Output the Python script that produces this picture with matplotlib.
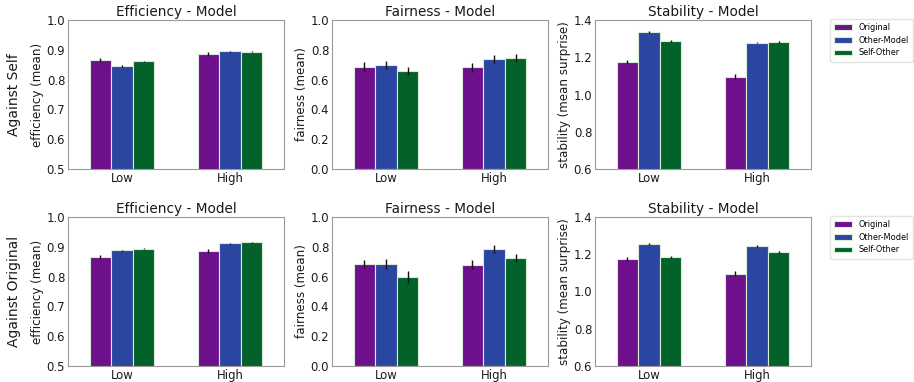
"""Efficiency / fairness / stability bar panels, against self and against original."""

import numpy as np
import matplotlib

matplotlib.use("Agg")
import matplotlib.pyplot as plt


groups = ["Low", "High"]
series = ["Original", "Other-Model", "Self-Other"]
colors = ["#6e0f8b", "#2a46a0", "#03622a"]

# against self
eff_self = [[0.865, 0.886], [0.845, 0.895], [0.862, 0.893]]
eff_self_err = [[0.007, 0.008], [0.003, 0.002], [0.002, 0.002]]
fair_self = [[0.687, 0.683], [0.699, 0.739], [0.657, 0.743]]
fair_self_err = [[0.029, 0.031], [0.027, 0.025], [0.029, 0.026]]
stab_self = [[1.173, 1.096], [1.336, 1.279], [1.289, 1.284]]
stab_self_err = [[0.010, 0.012], [0.005, 0.004], [0.005, 0.005]]

# against original
eff_orig = [[0.865, 0.885], [0.888, 0.912], [0.894, 0.915]]
eff_orig_err = [[0.007, 0.007], [0.002, 0.002], [0.002, 0.002]]
fair_orig = [[0.685, 0.681], [0.685, 0.783], [0.598, 0.723]]
fair_orig_err = [[0.029, 0.031], [0.031, 0.027], [0.038, 0.027]]
stab_orig = [[1.173, 1.096], [1.255, 1.245], [1.186, 1.213]]
stab_orig_err = [[0.010, 0.012], [0.005, 0.005], [0.006, 0.006]]

rows = [
    ("Against Self", [(eff_self, eff_self_err), (fair_self, fair_self_err), (stab_self, stab_self_err)]),
    ("Against Original", [(eff_orig, eff_orig_err), (fair_orig, fair_orig_err), (stab_orig, stab_orig_err)]),
]
panels = [
    ("Efficiency - Model", "efficiency (mean)", (0.5, 1.0), [0.5, 0.6, 0.7, 0.8, 0.9, 1.0]),
    ("Fairness - Model", "fairness (mean)", (0.0, 1.0), [0.0, 0.2, 0.4, 0.6, 0.8, 1.0]),
    ("Stability - Model", "stability (mean surprise)", (0.6, 1.4), [0.6, 0.8, 1.0, 1.2, 1.4]),
]

W, H = 914, 382
fig = plt.figure(figsize=(W / 100, H / 100), dpi=100)
lefts = [68, 332, 595]
tops = [20, 217]
aw, ah = 216, 149
width = 0.2
x = np.arange(len(groups))

for r, (row_label, data) in enumerate(rows):
    for c, ((title, ylabel, ylim, yticks), (vals, errs)) in enumerate(zip(panels, data)):
        ax = fig.add_axes([lefts[c] / W, 1 - (tops[r] + ah) / H, aw / W, ah / H])
        for i, name in enumerate(series):
            ax.bar(
                x + (i - 1) * width,
                vals[i],
                width,
                yerr=errs[i],
                color=colors[i],
                edgecolor="#d8ecd8",
                linewidth=0.8,
                error_kw=dict(ecolor="#111111", elinewidth=1.0, capsize=0),
                label=name,
            )
        ax.set_xlim(-0.5, 1.5)
        ax.set_ylim(*ylim)
        ax.set_yticks(yticks)
        ax.set_yticklabels([f"{t:.1f}" for t in yticks])
        ax.set_xticks(x)
        ax.set_xticklabels(groups)
        ax.tick_params(length=0, labelsize=8.4, pad=2, colors="#1a1a1a")
        for s in ax.spines.values():
            s.set_color("#9a9a9a")
            s.set_linewidth(0.8)
        ax.set_title(title, fontsize=9.8, pad=3, color="#1a1a1a")
        ax.set_ylabel(ylabel, fontsize=8.6, labelpad=2, color="#1a1a1a")
        if c == 0:
            ax.text(-0.25, 0.5, row_label, transform=ax.transAxes, rotation=90,
                    ha="center", va="center", fontsize=10.0, color="#1a1a1a")
        if c == 2:
            ax.legend(loc="upper left",
                      bbox_to_anchor=(830 / W, 1 - (tops[r] - 1) / H),
                      bbox_transform=fig.transFigure, fontsize=5.9,
                      frameon=True, edgecolor="#dddddd", handlelength=2.2,
                      handletextpad=0.8, borderpad=0.5, labelspacing=0.45,
                      borderaxespad=0)

fig.savefig("out.png", dpi=100)
